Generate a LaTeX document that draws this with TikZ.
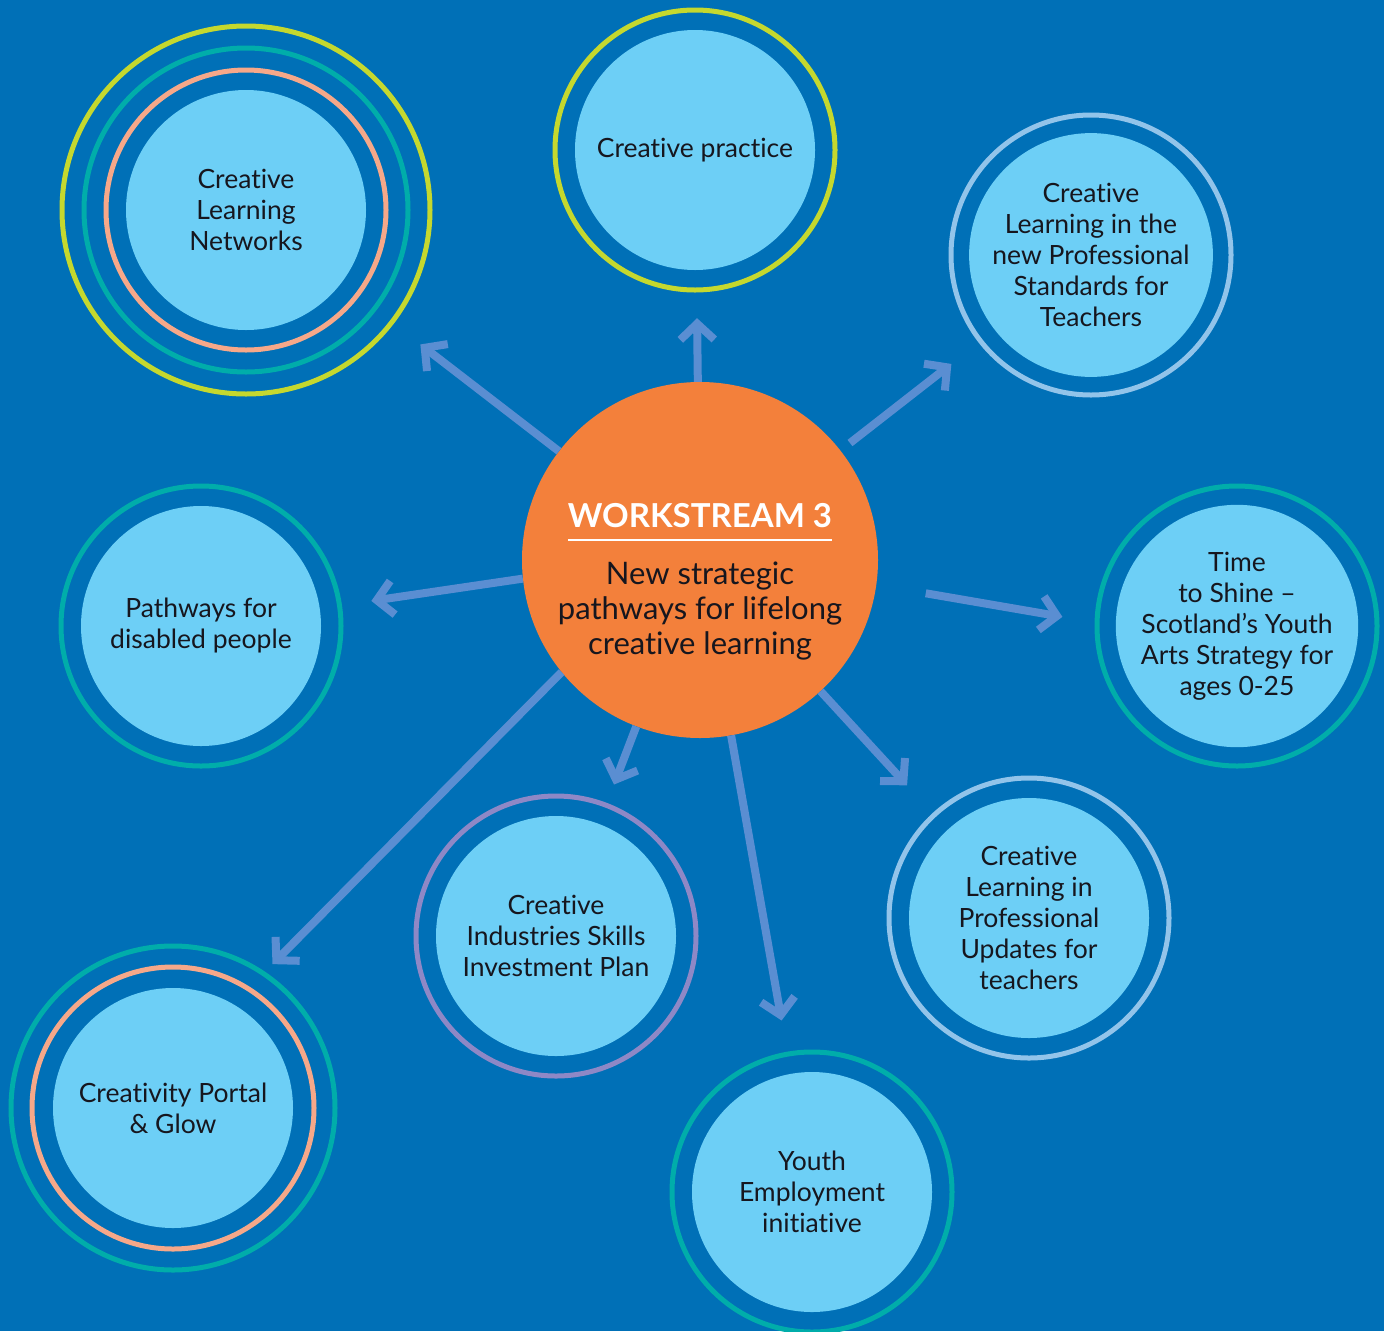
\documentclass[tikz,border=0pt]{standalone}
\usepackage{fontspec}
\setmainfont{Lato}[Ligatures=NoCommon]
\usetikzlibrary{arrows.meta}

\definecolor{bgblue}{RGB}{0,112,183}
\definecolor{bubblefill}{RGB}{109,207,246}
\definecolor{hubfill}{RGB}{243,128,59}
\definecolor{arrowblue}{RGB}{90,142,210}
\definecolor{limering}{RGB}{197,216,46}
\definecolor{tealring}{RGB}{0,173,170}
\definecolor{salmonring}{RGB}{246,168,137}
\definecolor{paleblue}{RGB}{146,196,234}
\definecolor{purplering}{RGB}{142,136,198}
\definecolor{inktext}{RGB}{22,22,30}

\begin{document}
\begin{tikzpicture}[
  x=1pt, y=-1pt,
  bubble/.style={circle, fill=bubblefill, minimum size=240pt, inner sep=0pt, align=center, text=inktext, font=\fontsize{26.5}{31}\selectfont},
  hub/.style={circle, fill=hubfill, minimum size=356pt, inner sep=0pt, align=center, text=inktext, font=\fontsize{31}{35}\selectfont},
  ring/.style={draw=#1, line width=5pt},
  every edge/.style={draw=arrowblue, line width=8pt, -{Straight Barb[length=16pt, width=34pt]}}
]
% Background
\fill[bgblue] (0,0) rectangle (1384,1331);
\useasboundingbox (0,0) rectangle (1384,1331);

% Centre: the workstream
\node[hub] (WS) at (700,560) {{\color{white}\bfseries\fontsize{33}{36}\selectfont\rule{0pt}{68pt}WORKSTREAM 3}\\[-22pt]
  {\color{white}\rule{264pt}{2pt}}\\[9pt]
  New strategic\\pathways for lifelong\\creative learning};

% Outer pathways
\node[bubble] (CLN) at (246,210) {Creative\\Learning\\Networks};
\node[bubble] (PRACTICE) at (695,150) {Creative practice};
\node[bubble] (STANDARDS) at (1091,255) {Creative\\Learning in the\\new Professional\\Standards for\\Teachers};
\node[bubble] (SHINE) at (1237,626) {Time\\to Shine --\\Scotland's Youth\\Arts Strategy for\\ages 0-25};
\node[bubble] (UPDATES) at (1029,918) {Creative\\Learning in\\Professional\\Updates for\\teachers};
\node[bubble] (YOUTH) at (812,1192) {Youth\\Employment\\initiative};
\node[bubble] (SKILLS) at (556,936) {Creative\\Industries Skills\\Investment Plan};
\node[bubble] (PORTAL) at (173,1108) {Creativity Portal\\\& Glow};
\node[bubble] (PATHWAYS) at (201,626) {Pathways for\\disabled people};

% Rings
\draw[ring=limering] (CLN.center) circle[radius=184pt];
\draw[ring=tealring] (CLN.center) circle[radius=162pt];
\draw[ring=salmonring] (CLN.center) circle[radius=140pt];
\draw[ring=limering] (PRACTICE.center) circle[radius=140pt];
\draw[ring=paleblue] (STANDARDS.center) circle[radius=140pt];
\draw[ring=tealring] (SHINE.center) circle[radius=140pt];
\draw[ring=paleblue] (UPDATES.center) circle[radius=140pt];
\draw[ring=tealring] (YOUTH.center) circle[radius=140pt];
\draw[ring=purplering] (SKILLS.center) circle[radius=140pt];
\draw[ring=tealring] (PORTAL.center) circle[radius=162pt];
\draw[ring=salmonring] (PORTAL.center) circle[radius=141pt];
\draw[ring=tealring] (PATHWAYS.center) circle[radius=140pt];

% Arrows out of the centre
\path (WS) edge[shorten >=100pt] (CLN);
\path (WS) edge[shorten >=48pt] (PRACTICE);
\path (WS) edge[shorten >=55pt, shorten <=12pt] (STANDARDS);
\path (WS.352) edge[shorten >=54pt, shorten <=50pt] (SHINE.west);
\path (WS) edge[shorten >=60pt] (UPDATES);
\path (WS) edge[shorten >=54pt] (YOUTH);
\path (WS) edge[shorten >=42pt] (SKILLS);
\path (WS.219) edge[shorten >=56pt] (PORTAL.60);
\path (WS.186) edge[shorten >=52pt] (PATHWAYS);

\end{tikzpicture}
\end{document}
